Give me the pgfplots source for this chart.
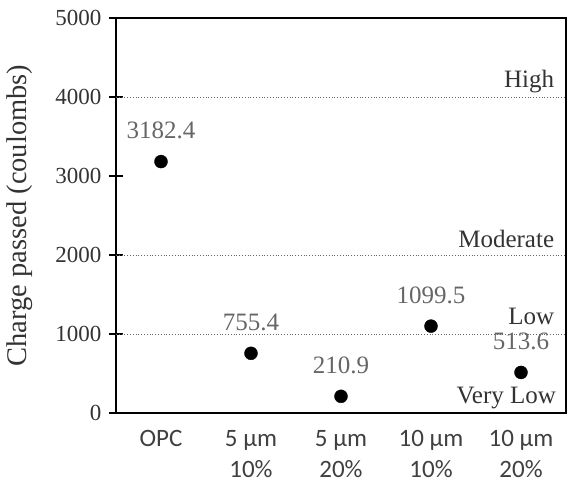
\documentclass[border=0pt]{standalone}
\usepackage{fontspec}
\setmainfont{Liberation Serif}
\newfontfamily\carlito{Carlito}
\usepackage{pgfplots}
\pgfplotsset{compat=1.18}
\begin{document}
\begin{tikzpicture}
\begin{axis}[
  scale only axis, width=450pt, height=395pt,
  xmin=-0.5, xmax=4.5, ymin=0, ymax=5000,
  /pgf/number format/assume math mode=true,
  /pgf/number format/1000 sep={},
  ytick={0,1000,2000,3000,4000,5000},
  xtick={0,1,2,3,4},
  xticklabels={OPC,{5 µm\\10\%},{5 µm\\20\%},{10 µm\\10\%},{10 µm\\20\%}},
  xticklabel style={font=\carlito\fontsize{25}{31}\selectfont, align=center, text=black!75, yshift=-7pt},
  yticklabel style={font=\fontsize{23}{27}\selectfont, text=black!80, xshift=-4pt},
  scaled y ticks=false,
  ytick pos=left,
  xtick style={draw=none},
  ytick style={black, line width=1.5pt},
  major tick length=14pt, tick align=center,
  axis line style={line width=1.5pt},
  ylabel={Charge passed (coulombs)},
  ylabel style={font=\fontsize{28.5}{31}\selectfont, text=black!80, at={(axis description cs:-0.213,0.5)}, anchor=center},
  clip=false,
]
\addplot[black!60, dotted, line width=0.8pt, forget plot] coordinates {(-0.5,1000)(4.5,1000)};
\addplot[black!60, dotted, line width=0.8pt, forget plot] coordinates {(-0.5,2000)(4.5,2000)};
\addplot[black!60, dotted, line width=0.8pt, forget plot] coordinates {(-0.5,4000)(4.5,4000)};
\addplot[only marks, mark=*, mark size=6.5pt, black,
  nodes near coords={\pgfmathprintnumber[fixed,precision=1,zerofill,1000 sep={}]{\pgfplotspointmeta}},
  every node near coord/.append style={font=\fontsize{25}{29}\selectfont, text=black!60, anchor=center, yshift=31pt}]
  coordinates {(0,3182.4)(1,755.4)(2,210.9)(3,1099.5)(4,513.6)};
\node[anchor=base east, inner sep=0pt, font=\fontsize{25}{29}\selectfont, text=black!80] at (axis cs:4.37,4115) {High};
\node[anchor=base east, inner sep=0pt, font=\fontsize{25}{29}\selectfont, text=black!80] at (axis cs:4.37,2100) {Moderate};
\node[anchor=base east, inner sep=0pt, font=\fontsize{25}{29}\selectfont, text=black!80] at (axis cs:4.37,1120) {Low};
\node[anchor=base east, inner sep=0pt, font=\fontsize{25}{29}\selectfont, text=black!80] at (axis cs:4.39,120) {Very Low};
\coordinate (O) at (rel axis cs:0,0);
\coordinate (T) at (rel axis cs:1,1);
\end{axis}
\pgfresetboundingbox
\path[use as bounding box] ([xshift=-116pt,yshift=-73pt]O) rectangle ([xshift=2pt,yshift=18pt]T);
\end{tikzpicture}
\end{document}
